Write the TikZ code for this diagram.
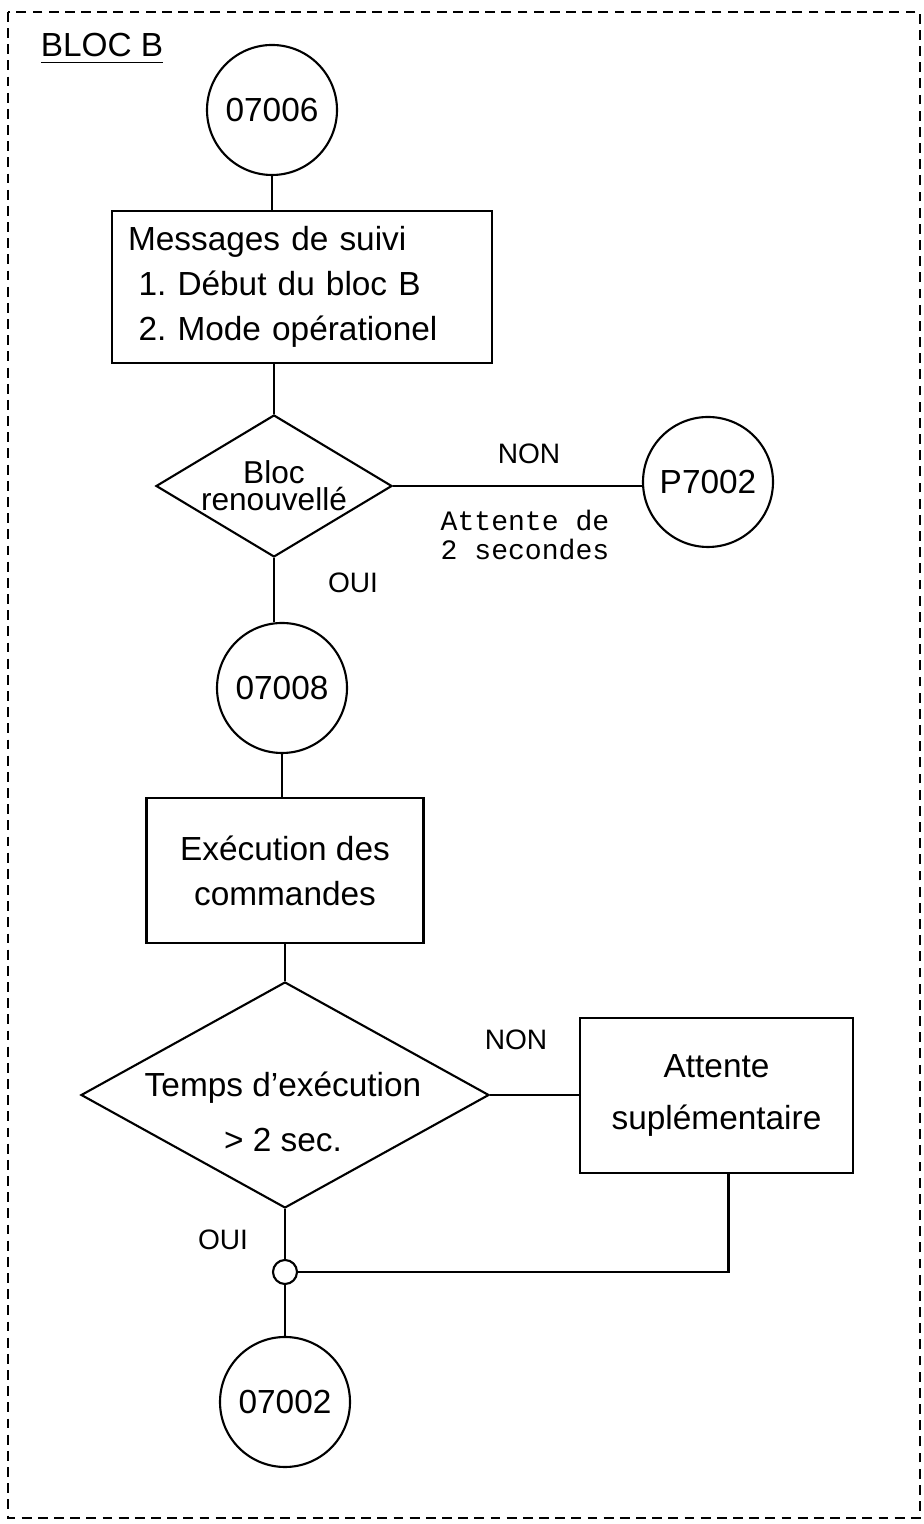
\documentclass[tikz,border=0pt]{standalone}
\usepackage{fontspec}
\setmainfont{Liberation Sans}
\newfontfamily\typefont{Liberation Mono}
\usetikzlibrary{shapes.geometric}
\frenchspacing

\begin{document}
\begin{tikzpicture}[
    line width=0.6pt,
    every node/.style={font=\fontsize{9.5}{12.8}\selectfont},
    conn/.style={draw, circle, minimum size=1.3cm, inner sep=0pt},
    proc/.style={draw, rectangle, align=center, inner sep=0pt},
    decide/.style={draw, diamond, align=center, inner sep=-2.5mm},
    answer/.style={font=\fontsize{8}{9}\selectfont}
]
    \useasboundingbox (0,0) rectangle (9.24,15.24);

    % Dashed frame round the block
    \draw[line width=0.8pt, dash pattern=on 2.8pt off 1.8pt] (0.08,15.12) rectangle (9.20,0.06);
    \node (title) at (1.02,14.75) {\underline{BLOC B}};

    % Messages and test of the block
    \node[conn] (c07006) at (2.72,14.14) {07006};
    \node[proc, minimum width=3.8cm, minimum height=1.52cm, text width=3.48cm, align=left, inner xsep=0.16cm] (msg) at (3.02,12.37)
        {Messages de suivi\\\hspace*{3pt}1. Début du bloc B\\\hspace*{3pt}2. Mode opérationel};
    \node[decide, minimum width=2.36cm, minimum height=1.42cm, font=\fontsize{9}{7.8}\selectfont] (bloc) at (2.74,10.38) {Bloc\\renouvellé};
    \node[conn] (p7002) at (7.08,10.42) {P7002};
    \node[answer] (non1) at (5.29,10.70) {NON};
    \node[font=\typefont\fontsize{8}{8.2}\selectfont, align=left] (wait) at (5.25,9.89) {Attente de\\2 secondes};
    \node[answer] (oui1) at (3.53,9.41) {OUI};

    % Execution of the commands
    \node[conn] (c07008) at (2.82,8.36) {07008};
    \node[proc, minimum width=2.77cm, minimum height=1.45cm] (exec) at (2.85,6.535) {Exécution des\\commandes};
    \node[decide, minimum width=4.08cm, minimum height=2.26cm] (temps) at (2.85,4.29) {};
    \node[align=center, font=\fontsize{9.5}{15.6}\selectfont] (tempstext) at (2.83,4.12) {Temps d’exécution\\> 2 sec.};
    \node[proc, minimum width=2.73cm, minimum height=1.55cm, font=\fontsize{9.5}{15}\selectfont] (extra) at (7.165,4.285) {Attente\\suplémentaire};
    \node[answer] (non2) at (5.16,4.84) {NON};
    \node[answer] (oui2) at (2.23,2.84) {OUI};
    \node[draw, circle, minimum size=0.24cm, inner sep=0pt] (merge) at (2.85,2.52) {};
    \node[conn] (c07002) at (2.85,1.22) {07002};

    % Connections
    \draw (c07006) -- (c07006 |- msg.north);
    \draw (bloc.north) -- (bloc.north |- msg.south);
    \draw (bloc.east) -- (bloc.east -| p7002.west);
    \draw (bloc.south) -- (bloc.south |- c07008.north);
    \draw (c07008.south) -- (c07008.south |- exec.north);
    \draw (exec) -- (temps);
    \draw (temps.east) -- (temps.east -| extra.west);
    \draw (temps) -- (merge);
    \draw (merge) -- (c07002);
    \draw ([xshift=1.2mm]extra.south) |- (merge);
\end{tikzpicture}
\end{document}
